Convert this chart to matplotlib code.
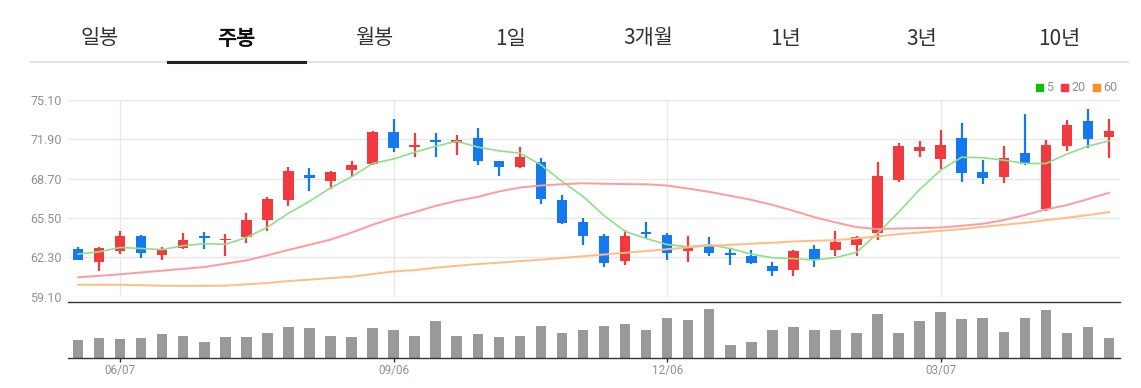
import matplotlib.pyplot as plt
import numpy as np
import pandas as pd
from matplotlib.lines import Line2D

# weekly candles, 2024-05-24 .. 2025-05-02
dates = pd.date_range("2024-05-24", periods=50, freq="7D")
opens = [62.99, 61.88, 62.82, 64.02, 62.44, 63.04, 64.04, 63.66, 63.91, 65.29,
         66.97, 69.00, 68.54, 69.38, 69.87, 72.50, 71.28, 71.82, 71.58, 72.01,
         70.11, 69.65, 70.03, 66.97, 65.18, 64.04, 61.96, 64.37, 64.12, 62.80,
         63.26, 62.61, 62.42, 61.55, 61.22, 62.99, 62.90, 63.31, 64.23, 68.60,
         70.92, 70.32, 72.00, 69.23, 68.85, 70.78, 66.21, 71.35, 73.39, 72.11]
highs = [63.09, 63.09, 64.45, 64.07, 63.12, 64.29, 64.37, 64.21, 65.86, 67.21,
         69.65, 69.57, 69.33, 70.17, 72.61, 73.53, 72.39, 72.39, 72.23, 72.80,
         70.11, 71.28, 70.36, 67.40, 65.48, 64.18, 64.53, 65.18, 64.29, 63.99,
         63.96, 63.04, 62.85, 61.88, 62.85, 63.28, 64.40, 64.02, 70.03, 71.63,
         71.78, 72.65, 73.20, 70.21, 71.32, 73.96, 71.84, 73.47, 74.39, 73.55]
lows = [62.06, 61.14, 62.55, 62.23, 62.04, 62.99, 62.93, 62.36, 63.42, 64.40,
        66.43, 67.73, 67.86, 68.84, 69.82, 70.90, 70.49, 70.44, 70.66, 69.82,
        68.89, 69.60, 66.67, 65.00, 63.28, 61.47, 61.63, 63.80, 62.04, 61.88,
        62.36, 61.63, 61.77, 60.74, 60.79, 61.47, 62.36, 62.42, 63.72, 68.46,
        70.43, 69.47, 68.39, 68.22, 68.33, 69.80, 66.08, 70.94, 71.16, 70.37]
closes = [62.06, 63.04, 64.02, 62.61, 62.85, 63.69, 63.85, 63.77, 65.34, 67.05,
          69.35, 68.73, 69.25, 69.82, 72.50, 71.22, 71.44, 71.71, 71.82, 70.17,
          69.68, 70.47, 67.02, 65.05, 64.04, 61.85, 64.02, 64.15, 62.61, 63.18,
          62.61, 62.50, 61.85, 61.14, 62.80, 62.04, 63.50, 63.96, 68.92, 71.39,
          71.27, 71.43, 69.18, 68.71, 70.40, 69.91, 71.43, 73.03, 71.95, 72.57]
ma5 = [62.55, 62.74, 63.09, 63.01, 62.92, 63.24, 63.40, 63.35, 63.90, 64.74,
       65.87, 66.85, 67.94, 68.84, 69.93, 70.30, 70.85, 71.34, 71.74, 71.27,
       70.96, 70.77, 69.83, 68.48, 67.25, 65.69, 64.40, 63.82, 63.33, 63.16,
       63.31, 63.01, 62.55, 62.26, 62.18, 62.07, 62.27, 62.69, 64.24, 65.96,
       67.81, 69.39, 70.44, 70.40, 70.20, 69.93, 69.93, 70.70, 71.34, 71.78]
ma20 = [60.66, 60.78, 60.91, 61.06, 61.20, 61.35, 61.50, 61.77, 62.04, 62.45,
        62.89, 63.31, 63.73, 64.30, 64.94, 65.50, 65.97, 66.48, 66.89, 67.21,
        67.65, 67.97, 68.14, 68.24, 68.32, 68.28, 68.25, 68.24, 68.14, 67.89,
        67.62, 67.30, 66.97, 66.56, 66.08, 65.56, 65.13, 64.75, 64.59, 64.64,
        64.67, 64.72, 64.86, 65.02, 65.32, 65.73, 66.19, 66.54, 67.03, 67.55]
ma60 = [60.06, 60.05, 60.05, 60.02, 59.98, 59.97, 59.97, 59.98, 60.09, 60.20,
        60.36, 60.47, 60.60, 60.71, 60.93, 61.14, 61.25, 61.44, 61.60, 61.74,
        61.85, 61.98, 62.10, 62.24, 62.38, 62.52, 62.66, 62.80, 62.95, 63.10,
        63.24, 63.30, 63.40, 63.48, 63.58, 63.64, 63.69, 63.83, 63.99, 64.18,
        64.31, 64.45, 64.58, 64.77, 64.94, 65.10, 65.32, 65.51, 65.73, 65.97]
volume = [52, 58, 55, 58, 70, 66, 46, 61, 61, 75,
          91, 88, 66, 61, 88, 84, 66, 109, 66, 72,
          61, 64, 95, 75, 82, 95, 100, 84, 120, 113,
          147, 39, 48, 82, 91, 84, 82, 73, 131, 75,
          109, 136, 115, 120, 77, 118, 142, 73, 91, 59]
price_ticks = [59.10, 62.30, 65.50, 68.70, 71.90, 75.10]
date_ticks = [2, 15, 28, 41]
tabs = ["일봉", "주봉", "월봉", "1일", "3개월", "1년", "3년", "10년"]
active_tab = 1
ma_labels = ["5", "20", "60"]

W, H = 1141, 388
UP, DOWN = "#f03a3d", "#1479ee"
GRID = "#e8e8ea"
LABEL = "#8c919b"

plt.rcParams["font.family"] = ["Roboto", "Noto Sans CJK KR", "DejaVu Sans"]

fig = plt.figure(figsize=(W / 100, H / 100), dpi=100)
ax = fig.add_axes([67.5 / W, 1 - 296.5 / H, 1052 / W, 196.5 / H])
axv = fig.add_axes([67.5 / W, 1 - 357.5 / H, 1052 / W, 55.5 / H])

x = np.arange(len(dates))
o, h, l, c = map(np.array, (opens, highs, lows, closes))
colors = np.where(c >= o, UP, DOWN)

# candles
ax.vlines(x, l, h, colors=colors, lw=1.6, zorder=3)
ax.bar(x, np.maximum(np.abs(c - o), 0.06), bottom=np.minimum(o, c), width=0.5,
       color=colors, linewidth=0, zorder=3)

# moving averages
ax.plot(x, ma5, color="#8ee08a", lw=1.2, zorder=4)
ax.plot(x, ma20, color="#ff9b9d", lw=1.4, zorder=4)
ax.plot(x, ma60, color="#ffbd84", lw=1.4, zorder=4)

ax.set_xlim(-0.5, len(x) - 0.5)
ax.set_ylim(price_ticks[0], price_ticks[-1])
ax.set_yticks(price_ticks)
ax.set_yticklabels([f"{v:.2f}" for v in price_ticks], color=LABEL, fontsize=9)
ax.set_xticks(date_ticks)
ax.set_xticklabels([])
ax.tick_params(length=0, pad=4)
ax.grid(True, color=GRID, lw=1.0)
ax.set_axisbelow(True)
for s in ax.spines.values():
    s.set_visible(False)

# volume pane
axv.bar(x, volume, width=0.5, color="#999999", linewidth=0)
axv.set_xlim(-0.5, len(x) - 0.5)
axv.set_ylim(0, 167)
axv.set_yticks([])
axv.set_xticks(date_ticks)
axv.set_xticklabels([dates[i].strftime("%m/%d") for i in date_ticks],
                    color=LABEL, fontsize=8.5)
axv.tick_params(axis="x", length=3, width=1, color="#333333", pad=2)
for side in ("left", "right"):
    axv.spines[side].set_visible(False)
for side in ("top", "bottom"):
    axv.spines[side].set_color("#333333")
    axv.spines[side].set_linewidth(1.0)

# legend
lx = [1036, 1061, 1093]
for px, lab, col in zip(lx, ma_labels, ["#0cbf0c", "#ff3344", "#ff8c1e"]):
    fig.patches.append(plt.Rectangle((px / W, 1 - 91 / H), 7 / W, 7 / H,
                                     transform=fig.transFigure, color=col))
    fig.text((px + 10) / W, 1 - 87.5 / H, lab, color=LABEL, fontsize=9,
             va="center", ha="left")

# tabs
for i, t in enumerate(tabs):
    cx = 31 + 137.1 * (i + 0.5)
    fig.text(cx / W, 1 - 38.5 / H, t, ha="center", va="center", fontsize=15,
             family=["Noto Sans CJK KR"],
             color="#111111" if i == active_tab else "#333333",
             fontweight="bold" if i == active_tab else "normal")
fig.lines.append(Line2D([31 / W, 1128 / W], [1 - 62 / H] * 2, color="#e4e4e4",
                        lw=1.5, transform=fig.transFigure))
x0 = 31 + 137.1 * active_tab
fig.lines.append(Line2D([x0 / W, (x0 + 137.1) / W], [1 - 62 / H] * 2,
                        color="#222222", lw=2.2, transform=fig.transFigure))

fig.savefig("out.png", dpi=100)
